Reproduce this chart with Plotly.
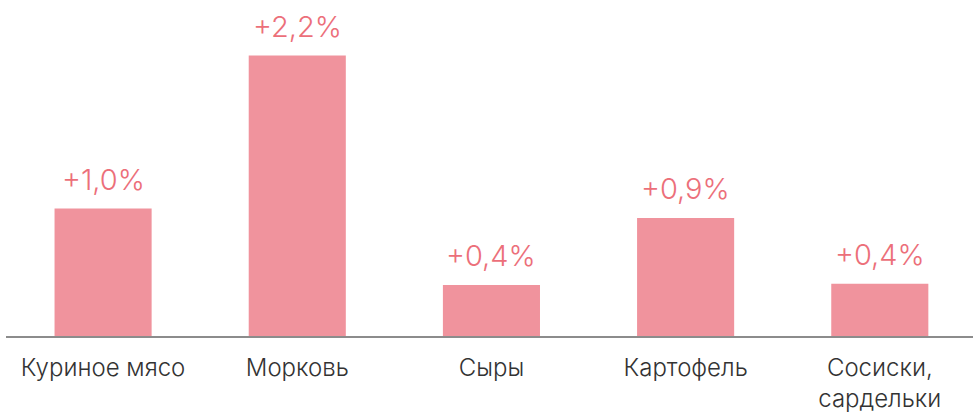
import plotly.graph_objects as go

categories = ["Куриное мясо", "Морковь", "Сыры", "Картофель", "Сосиски,<br>сардельки"]
values = [1.0, 2.2, 0.4, 0.925, 0.41]
labels = ["+1,0%", "+2,2%", "+0,4%", "+0,9%", "+0,4%"]

bar_color = "#f0939d"
label_color = "#ec6f7a"

x = list(range(len(categories)))

fig = go.Figure()
fig.add_trace(go.Bar(x=x, y=values, marker=dict(color=bar_color, line=dict(width=0)),
                     hoverinfo="skip"))

for xi, v, t in zip(x, values, labels):
    fig.add_annotation(x=xi, y=v, text=t, showarrow=False, yanchor="bottom", yshift=10,
                       font=dict(family="Inter", size=29, color=label_color, weight=300))

fig.update_layout(
    width=973, height=414,
    margin=dict(l=6, r=0, t=0, b=78, autoexpand=False),
    paper_bgcolor="white", plot_bgcolor="white",
    bargap=0.5, showlegend=False,
    xaxis=dict(tickmode="array", tickvals=x, ticktext=categories, range=[-0.5, 4.48],
               showline=True, linecolor="#8c8c8c", linewidth=2, showgrid=False,
               ticks="", ticklen=0, automargin=False, ticklabelstandoff=9,
               tickfont=dict(family="Inter", size=24, color="#333333", weight=300)),
    yaxis=dict(range=[0, 336 / 127.5], visible=False, showgrid=False, zeroline=False),
)

fig.write_html("out.html", config={"displayModeBar": False},
               post_script="document.body.style.margin='0';document.body.style.overflow='hidden';")
